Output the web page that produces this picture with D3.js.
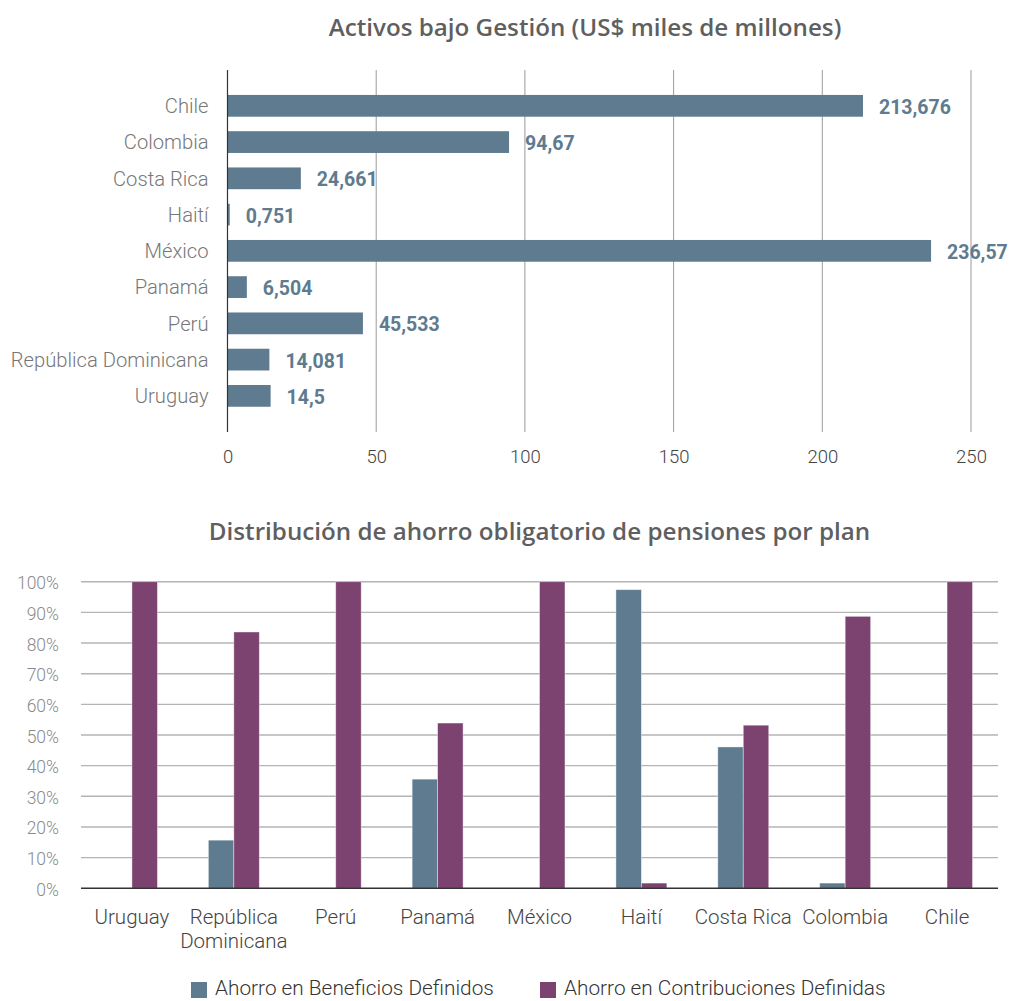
<!DOCTYPE html>
<html lang="es">
<head>
<meta charset="utf-8">
<script src="https://cdn.jsdelivr.net/npm/d3@7"></script>
<style>
  html, body { margin: 0; padding: 0; background: #fff; }
  svg { display: block; font-family: Roboto, "Open Sans", sans-serif; }
</style>
</head>
<body>
<svg id="chart" width="1009" height="1001"></svg>
<script>
// Activos bajo gestión (US$ miles de millones)
const assetCountries = ["Chile", "Colombia", "Costa Rica", "Haití", "México", "Panamá", "Perú", "República Dominicana", "Uruguay"];
const assetValues = [213.676, 94.67, 24.661, 0.751, 236.57, 6.504, 45.533, 14.081, 14.5];
const assetLabels = ["213,676", "94,67", "24,661", "0,751", "236,57", "6,504", "45,533", "14,081", "14,5"];
const assetTicks = [0, 50, 100, 150, 200, 250];

// Distribución del ahorro obligatorio por plan (fracción del total)
const planCountries = ["Uruguay", "República Dominicana", "Perú", "Panamá", "México", "Haití", "Costa Rica", "Colombia", "Chile"];
const beneficiosDefinidos = [0, 0.157, 0, 0.356, 0, 0.974, 0.461, 0.017, 0];
const contribucionesDefinidas = [1, 0.836, 1, 0.539, 1, 0.017, 0.532, 0.887, 1];
const planTicks = [0, 0.1, 0.2, 0.3, 0.4, 0.5, 0.6, 0.7, 0.8, 0.9, 1];
const seriesNames = ["Ahorro en Beneficios Definidos", "Ahorro en Contribuciones Definidas"];

const BLUE = "#5e7b8f";
const PURPLE = "#7c4370";
const TITLE_FONT = "'Open Sans', Roboto, sans-serif";

const svg = d3.select("#chart");

// ---------- Horizontal bar chart ----------
const assetsG = svg.append("g");

assetsG.append("text")
  .attr("x", 585).attr("y", 26)
  .attr("text-anchor", "middle").attr("dominant-baseline", "central")
  .attr("font-family", TITLE_FONT)
  .attr("font-size", 24.2).attr("font-weight", 600).attr("fill", "#5f5f5f")
  .text("Activos bajo Gestión (US$ miles de millones)");

const xA = d3.scaleLinear().domain([0, 250]).range([227.5, 971]);
const yA = d3.scaleBand().domain(assetCountries).range([87.7, 414])
  .paddingInner(0.4).paddingOuter(0.2);

// vertical gridlines
assetsG.append("g").selectAll("line")
  .data(assetTicks.slice(1))
  .join("line")
  .attr("x1", d => xA(d)).attr("x2", d => xA(d))
  .attr("y1", 70).attr("y2", 432)
  .attr("stroke", "#9a9a9a").attr("stroke-width", 1);

// x axis tick labels
const axA = assetsG.append("g").attr("transform", "translate(0,432)")
  .call(d3.axisBottom(xA).tickValues(assetTicks).tickSize(0).tickPadding(18));
axA.select(".domain").remove();
axA.selectAll("text")
  .attr("font-family", "Roboto, sans-serif")
  .attr("font-size", 18.5).attr("font-weight", 300).attr("fill", "#444");

// bars
assetsG.append("g").selectAll("rect")
  .data(assetCountries)
  .join("rect")
  .attr("x", xA(0))
  .attr("y", d => yA(d))
  .attr("width", (d, i) => xA(assetValues[i]) - xA(0))
  .attr("height", yA.bandwidth())
  .attr("fill", BLUE);

// baseline
assetsG.append("line")
  .attr("x1", xA(0)).attr("x2", xA(0))
  .attr("y1", 70).attr("y2", 432)
  .attr("stroke", "#333").attr("stroke-width", 1.2);

// category labels
const ayA = assetsG.append("g").attr("transform", `translate(${xA(0)},0)`)
  .call(d3.axisLeft(yA).tickSize(0).tickPadding(19));
ayA.select(".domain").remove();
ayA.selectAll("text")
  .attr("font-family", "Roboto, sans-serif")
  .attr("font-size", 20.2).attr("font-weight", 300).attr("fill", "#777")
  .attr("dy", "0.36em");

// value labels
assetsG.append("g").selectAll("text")
  .data(assetCountries)
  .join("text")
  .attr("x", (d, i) => xA(assetValues[i]) + 16)
  .attr("y", d => yA(d) + yA.bandwidth() / 2 + 1.5)
  .attr("dominant-baseline", "central")
  .attr("font-size", 19.5).attr("font-weight", 700).attr("fill", BLUE)
  .text((d, i) => assetLabels[i]);

// ---------- Grouped column chart ----------
const planG = svg.append("g");

planG.append("text")
  .attr("x", 539.5).attr("y", 530)
  .attr("text-anchor", "middle").attr("dominant-baseline", "central")
  .attr("font-family", TITLE_FONT)
  .attr("font-size", 24.2).attr("font-weight", 600).attr("fill", "#5f5f5f")
  .text("Distribución de ahorro obligatorio de pensiones por plan");

const x0 = d3.scaleBand().domain(planCountries).range([81, 998])
  .paddingInner(0.5).paddingOuter(0.25);
const x1 = d3.scaleBand().domain(seriesNames).range([0, x0.bandwidth()]);
const yP = d3.scaleLinear().domain([0, 1]).range([888.3, 581.7]);

// horizontal gridlines
planG.append("g").selectAll("line")
  .data(planTicks.slice(1))
  .join("line")
  .attr("x1", 81).attr("x2", 998)
  .attr("y1", d => yP(d)).attr("y2", d => yP(d))
  .attr("stroke", "#b4b4b4").attr("stroke-width", 1.4);

// y axis labels
const ayP = planG.append("g").attr("transform", "translate(59,0)")
  .call(d3.axisLeft(yP).tickValues(planTicks).tickFormat(d3.format(".0%")).tickSize(0).tickPadding(0));
ayP.select(".domain").remove();
ayP.selectAll("text")
  .attr("font-family", "Roboto, sans-serif")
  .attr("font-size", 17.5).attr("font-weight", 300).attr("fill", "#8a8a8a")
  .attr("dy", "0.4em");

// bars
const rows = planCountries.map((c, i) => ({
  country: c,
  values: [
    { key: seriesNames[0], value: beneficiosDefinidos[i], color: BLUE },
    { key: seriesNames[1], value: contribucionesDefinidas[i], color: PURPLE }
  ]
}));

planG.append("g").selectAll("g")
  .data(rows)
  .join("g")
  .attr("transform", d => `translate(${x0(d.country)},0)`)
  .selectAll("rect")
  .data(d => d.values.filter(v => v.value > 0))
  .join("rect")
  .attr("x", d => x1(d.key))
  .attr("y", d => yP(d.value))
  .attr("width", x1.bandwidth())
  .attr("height", d => yP(0) - yP(d.value))
  .attr("fill", d => d.color)
  .attr("stroke", "#fff").attr("stroke-opacity", 0.5).attr("stroke-width", 0.8);

// baseline
planG.append("line")
  .attr("x1", 81).attr("x2", 998)
  .attr("y1", yP(0)).attr("y2", yP(0))
  .attr("stroke", "#333").attr("stroke-width", 1.6);

// category labels (long names wrap onto two lines)
const wrapNames = { "República Dominicana": ["República", "Dominicana"] };
planG.append("g").selectAll("text")
  .data(planCountries)
  .join("text")
  .attr("x", d => x0(d) + x0.bandwidth() / 2)
  .attr("y", 917)
  .attr("text-anchor", "middle")
  .attr("font-size", 20.5).attr("font-weight", 300).attr("fill", "#444")
  .each(function (d) {
    const lines = wrapNames[d] || [d];
    d3.select(this).selectAll("tspan")
      .data(lines)
      .join("tspan")
      .attr("x", x0(d) + x0.bandwidth() / 2)
      .attr("dy", (l, j) => j === 0 ? "0.35em" : "24px")
      .text(l => l);
  });

// legend
const legend = planG.append("g");
const legendX = [191, 540];
seriesNames.forEach((name, i) => {
  const g = legend.append("g").attr("transform", `translate(${legendX[i]},982)`);
  g.append("rect").attr("width", 16).attr("height", 16)
    .attr("fill", i === 0 ? BLUE : PURPLE);
  g.append("text").attr("x", 24).attr("y", 6)
    .attr("dominant-baseline", "central")
    .attr("font-size", 20.8).attr("font-weight", 300).attr("fill", "#333")
    .text(name);
});
</script>
</body>
</html>
